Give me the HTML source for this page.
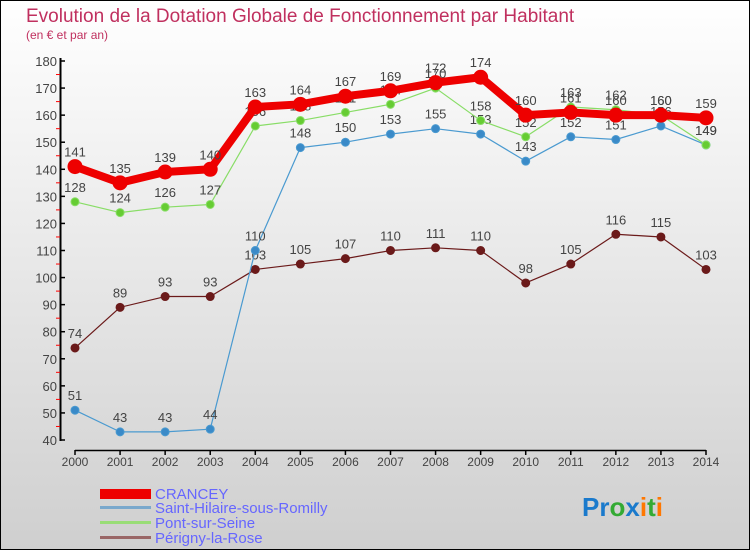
<!DOCTYPE html>
<html><head><meta charset="utf-8"><style>
body{margin:0}
#c{width:750px;height:550px;position:relative;overflow:hidden;font-family:"Liberation Sans",sans-serif}
</style></head><body>
<div id="c">
<svg width="750" height="550" xmlns="http://www.w3.org/2000/svg" id="svg">
<defs><linearGradient id="bg" x1="0" y1="0" x2="0" y2="1"><stop offset="0" stop-color="#ffffff"/><stop offset="1" stop-color="#cfcfcf"/></linearGradient></defs>
<rect x="0.5" y="0.5" width="749" height="549" fill="url(#bg)" stroke="#000"/>
<text x="26" y="22" font-size="19" fill="#c0305f">Evolution de la Dotation Globale de Fonctionnement par Habitant</text>
<text x="26" y="39" font-size="12" fill="#c0305f">(en € et par an)</text>
<g id="axes"></g>
<g id="series"></g>
<g id="legend">
<rect x="100" y="489" width="51" height="10" fill="#e00"/>
<text x="155" y="499" font-size="15" fill="#6666ff">CRANCEY</text>
<rect x="100" y="506" width="51" height="3" fill="#7aa8cc"/>
<text x="155" y="513" font-size="15" fill="#6666ff">Saint-Hilaire-sous-Romilly</text>
<rect x="100" y="521" width="51" height="3" fill="#99dd77"/>
<text x="155" y="528" font-size="15" fill="#6666ff">Pont-sur-Seine</text>
<rect x="100" y="536" width="51" height="3" fill="#996666"/>
<text x="155" y="543" font-size="15" fill="#6666ff">Périgny-la-Rose</text>
</g>
<text x="582" y="516" font-size="26" font-weight="bold"><tspan fill="#1a7acc">Pr</tspan><tspan fill="#33aa33">o</tspan><tspan fill="#1a7acc">x</tspan><tspan fill="#ff7700">i</tspan><tspan fill="#33aa33">t</tspan><tspan fill="#ff7700">i</tspan></text>
</svg>
</div>
<script>
const years=[2000,2001,2002,2003,2004,2005,2006,2007,2008,2009,2010,2011,2012,2013,2014];
const yTicks=[40,50,60,70,80,90,100,110,120,130,140,150,160,170,180];
const crancey=[141,135,139,140,163,164,167,169,172,174,160,161,160,160,159];
const saintHilaire=[51,43,43,44,110,148,150,153,155,153,143,152,151,156,149];
const pontSurSeine=[128,124,126,127,156,158,161,164,170,158,152,163,162,160,149];
const perigny=[74,89,93,93,103,105,107,110,111,110,98,105,116,115,103];
const NS="http://www.w3.org/2000/svg";
function X(i){return 75+i*(706-75)/(years.length-1);}
function Y(v){return 440-(v-40)*(440-61)/140;}
function mk(t,a,p){const e=document.createElementNS(NS,t);for(const k in a)e.setAttribute(k,a[k]);p.appendChild(e);return e;}
const ax=document.getElementById('axes');
const yl=mk('line',{x1:60.5,y1:58,x2:60.5,y2:441,stroke:'#000','stroke-width':2},ax);


const xl=mk('line',{x1:75,y1:450.5,x2:706,y2:450.5,stroke:'#000','stroke-width':1.5},ax);


yTicks.forEach(v=>{
 mk('line',{x1:60,y1:Y(v),x2:65,y2:Y(v),stroke:'#000','stroke-width':1.5},ax);
 if(v<180) mk('line',{x1:56,y1:Y(v+5),x2:60,y2:Y(v+5),stroke:'#f00','stroke-width':1},ax);
 const t=mk('text',{x:57,y:Y(v)+5,'font-size':13,fill:'#444','text-anchor':'end'},ax);t.textContent=v;
 
 
});
years.forEach((y,i)=>{
 mk('line',{x1:X(i),y1:450,x2:X(i),y2:455,stroke:'#000','stroke-width':1.5},ax);
 const t=mk('text',{x:X(i),y:466,'font-size':12,fill:'#444','text-anchor':'middle'},ax);t.textContent=y;
 
 
});
const sg=document.getElementById('series');
function draw(data,color,lw,r,dot,name){
 const g=mk('g',{},sg);
 
 
 const pl=mk('polyline',{points:data.map((v,i)=>X(i)+','+Y(v)).join(' '),fill:'none',stroke:color,'stroke-width':lw,'stroke-linejoin':'round'},g);
 
 
 data.forEach((v,i)=>{
  const c=mk('circle',{cx:X(i),cy:Y(v),r:r,fill:dot,stroke:color,'stroke-width':1},g);
  
  
  const t=mk('text',{x:X(i),y:Y(v)-10,'font-size':13,fill:'#444','text-anchor':'middle'},g);t.textContent=v;
  
  
 });
}
draw(perigny,'#6b1a1a',1.2,4,'#6b1a1a','series-perigny');
draw(saintHilaire,'#4a9ad0',1.2,4,'#3a8ac8','series-saint-hilaire');
draw(pontSurSeine,'#88dd66',1.2,4,'#66cc33','series-pont-sur-seine');
draw(crancey,'#ee0000',8,7,'#ee0000','series-crancey');
</script>
</body></html>
